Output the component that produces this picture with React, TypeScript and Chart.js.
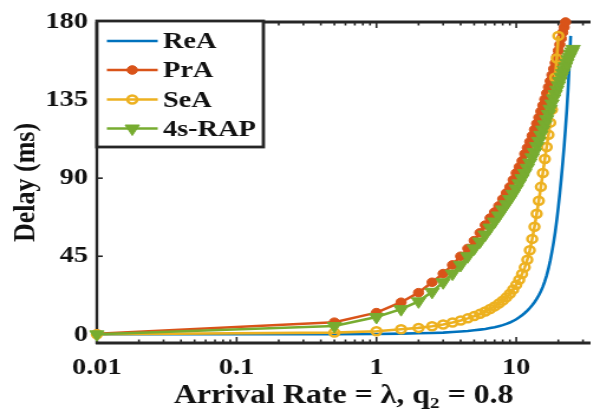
import React, { useEffect, useRef } from 'react';
import { Chart, registerables } from 'chart.js';

Chart.register(...registerables);

// Arrival rates (λ) at which each series is sampled
const lambdas = [
  0.01, 0.5, 1, 1.5, 2, 2.5, 3, 3.5, 4, 4.5, 5, 5.5, 6, 6.5, 7, 7.5, 8, 8.5, 9, 9.5,
  10, 10.5, 11, 11.5, 12, 12.5, 13, 13.5, 14, 14.5, 15, 15.5, 16, 16.5, 17, 17.5, 18, 18.5, 19, 19.5,
  20, 20.5, 21, 21.5, 22, 22.5, 23, 23.5, 24, 24.5, 25, 25.5,
];

// Delay (ms) per series
const reaDelay = [
  0, 0.1, 0.2, 0.4, 0.6, 0.8, 1, 1.3, 1.6, 1.9, 2.3, 2.7, 3.1, 3.6, 4.1, 4.7, 5.3, 6, 6.8, 7.7,
  8.7, 9.8, 11, 12.3, 13.7, 15.2, 16.8, 18.5, 20.4, 22.5, 24.8, 27.5, 30.5, 34, 38, 42.5, 47.5, 53, 59, 66,
  73.5, 81.5, 90, 99, 108.5, 118.5, 129.5, 142, 156, 172,
];
const praDelay = [
  0.3, 7, 12.5, 18.5, 24, 30, 35, 40, 45, 49.5, 54, 58.5, 63, 67, 70.5, 74, 78, 81.5, 85, 89,
  93, 96.5, 100, 104, 107.5, 111, 114.5, 118, 121.5, 125, 128.5, 132, 135.5, 139, 142.5, 146, 149.5, 153, 156.5, 160,
  163.5, 167, 170.5, 174, 177, 180,
];
const seaDelay = [
  0, 1, 1.8, 2.9, 3.7, 4.7, 5.7, 6.8, 8, 9.2, 10.5, 11.8, 13.2, 14.6, 16.1, 17.7, 19.4, 21.3, 23.4, 25.8,
  28.5, 31.5, 34.8, 38.6, 43, 48.5, 55, 62, 69.5, 77, 85, 93, 101, 108, 115, 122, 129.5, 138, 148, 159,
  172,
];
const rapDelay = [
  0, 4.8, 10, 14.5, 19, 24.5, 30, 35, 40, 45, 49.5, 53.5, 57.5, 61.5, 65, 68.5, 72, 75, 78, 81,
  84, 87, 90, 93, 96, 99, 102, 105, 108.5, 111.5, 115, 118, 121, 124, 127, 130, 133, 136, 138.5, 141,
  143.5, 146, 148.5, 150.5, 152.5, 154.5, 156.5, 158.5, 160, 161.5, 163, 164.5,
];

const seriesNames = ['ReA', 'PrA', 'SeA', '4s-RAP'];
const seriesColors = ['#0072BD', '#D95319', '#EDB120', '#77AC30'];

const xMajorTicks = [0.01, 0.1, 1, 10];
const xTickLabels = ['0.01', '0.1', '1', '10'];
const xMinorTicks = [
  0.02, 0.03, 0.04, 0.05, 0.06, 0.07, 0.08, 0.09,
  0.2, 0.3, 0.4, 0.5, 0.6, 0.7, 0.8, 0.9,
  2, 3, 4, 5, 6, 7, 8, 9, 20, 30,
];
const yTicks = [0, 45, 90, 135, 180];
const yTickLabels = ['0', '45', '90', '135', '180'];

const xTitle = 'Arrival Rate = λ, q₂ = 0.8';
const yTitle = 'Delay (ms)';

const FONT = '"Liberation Serif", "Times New Roman", serif';
const AXIS_COLOR = '#262626';
const TEXT_COLOR = '#111111';

const LINE_W = 2.6;
const RED_R = 4.3;
const YEL_R = 4;
const YEL_BW = 2.5;
const TRI_R = 7;

const toPoints = (ys: number[]) => ys.map((y, i) => ({ x: lambdas[i], y }));

function drawMarker(ctx: CanvasRenderingContext2D, idx: number, x: number, y: number) {
  const c = seriesColors[idx];
  if (idx === 1) {
    ctx.beginPath();
    ctx.arc(x, y, RED_R, 0, Math.PI * 2);
    ctx.fillStyle = c;
    ctx.fill();
    ctx.lineWidth = 1;
    ctx.strokeStyle = c;
    ctx.stroke();
  } else if (idx === 2) {
    ctx.beginPath();
    ctx.arc(x, y, YEL_R, 0, Math.PI * 2);
    ctx.lineWidth = YEL_BW;
    ctx.strokeStyle = c;
    ctx.stroke();
  } else if (idx === 3) {
    ctx.beginPath();
    for (let k = 0; k < 3; k++) {
      const ang = Math.PI + (k * 2 * Math.PI) / 3;
      const px = x + Math.sin(ang) * TRI_R;
      const py = y - Math.cos(ang) * TRI_R;
      if (k === 0) ctx.moveTo(px, py);
      else ctx.lineTo(px, py);
    }
    ctx.closePath();
    ctx.fillStyle = c;
    ctx.fill();
    ctx.lineWidth = 1;
    ctx.strokeStyle = c;
    ctx.stroke();
  }
}

const framePlugin = {
  id: 'matlabFrame',
  beforeDatasetsDraw(chart: any) {
    const { ctx, chartArea: a, scales } = chart;
    const xs = scales.x;
    const ys = scales.y;
    ctx.save();
    ctx.strokeStyle = AXIS_COLOR;
    const seg = (x1: number, y1: number, x2: number, y2: number) => {
      ctx.beginPath();
      ctx.moveTo(x1, y1);
      ctx.lineTo(x2, y2);
      ctx.stroke();
    };
    ctx.lineWidth = 1.6;
    xMajorTicks.forEach((v) => {
      const p = xs.getPixelForValue(v);
      seg(p, a.bottom, p, a.bottom - 6);
      seg(p, a.top, p, a.top + 6);
    });
    xMinorTicks.forEach((v) => {
      const p = xs.getPixelForValue(v);
      seg(p, a.bottom, p, a.bottom - 3.5);
      seg(p, a.top, p, a.top + 3.5);
    });
    yTicks.forEach((v) => {
      const p = ys.getPixelForValue(v);
      seg(a.left, p, a.left + 5, p);
    });
    ctx.lineWidth = 2.8;
    seg(a.left - 1, a.bottom, a.right, a.bottom);
    seg(a.left - 1, a.top, a.right, a.top);
    ctx.lineWidth = 2.4;
    seg(a.left, a.top, a.left, a.bottom + 1);
    ctx.restore();
  },
  afterDatasetsDraw(chart: any) {
    const { ctx, chartArea: a } = chart;
    ctx.save();
    const bx = a.left;
    const by = a.top - 1;
    const bw = 141;
    const bh = 126;
    ctx.fillStyle = '#ffffff';
    ctx.fillRect(bx, by, bw, bh);
    ctx.lineWidth = 2.8;
    ctx.strokeStyle = AXIS_COLOR;
    ctx.strokeRect(bx, by, bw, bh);
    const rows = [41, 70, 99.5, 128.5];
    seriesNames.forEach((name, i) => {
      const ry = rows[i];
      ctx.beginPath();
      ctx.moveTo(bx + 8.5, ry);
      ctx.lineTo(bx + 51.5, ry);
      ctx.lineWidth = LINE_W;
      ctx.strokeStyle = seriesColors[i];
      ctx.stroke();
      drawMarker(ctx, i, bx + 30, ry);
      ctx.fillStyle = TEXT_COLOR;
      ctx.font = `bold 24px ${FONT}`;
      ctx.textAlign = 'left';
      ctx.textBaseline = 'middle';
      ctx.fillText(name, bx + 56, ry + 1);
    });
    ctx.restore();
  },
};

export default function App() {
  const canvasRef = useRef<HTMLCanvasElement | null>(null);

  useEffect(() => {
    const canvas = canvasRef.current;
    if (!canvas) return;
    const chart = new Chart(canvas, {
      type: 'line',
      data: {
        datasets: [
          {
            label: seriesNames[0],
            data: toPoints(reaDelay),
            borderColor: seriesColors[0],
            backgroundColor: seriesColors[0],
            borderWidth: LINE_W,
            pointRadius: 0,
            order: 3,
            clip: false as any,
          },
          {
            label: seriesNames[1],
            data: toPoints(praDelay),
            borderColor: seriesColors[1],
            backgroundColor: seriesColors[1],
            pointBackgroundColor: seriesColors[1],
            pointBorderColor: seriesColors[1],
            pointRadius: RED_R,
            pointBorderWidth: 1,
            borderWidth: LINE_W,
            order: 2,
            clip: false as any,
          },
          {
            label: seriesNames[2],
            data: toPoints(seaDelay),
            borderColor: seriesColors[2],
            backgroundColor: 'rgba(0,0,0,0)',
            pointBackgroundColor: 'rgba(0,0,0,0)',
            pointBorderColor: seriesColors[2],
            pointRadius: YEL_R,
            pointBorderWidth: YEL_BW,
            borderWidth: LINE_W,
            order: 1,
            clip: false as any,
          },
          {
            label: seriesNames[3],
            data: toPoints(rapDelay),
            borderColor: seriesColors[3],
            backgroundColor: seriesColors[3],
            pointBackgroundColor: seriesColors[3],
            pointBorderColor: seriesColors[3],
            pointStyle: 'triangle',
            pointRotation: 180,
            pointRadius: TRI_R,
            pointBorderWidth: 1,
            borderWidth: LINE_W,
            order: 0,
            clip: false as any,
          },
        ],
      },
      options: {
        responsive: false,
        animation: false,
        devicePixelRatio: 1,
        layout: { padding: { top: 22, left: 0, right: 0, bottom: 0 } },
        plugins: {
          legend: { display: false },
          tooltip: { enabled: false },
        },
        scales: {
          x: {
            type: 'logarithmic',
            min: 0.01,
            max: 34,
            grid: { display: false, drawTicks: false },
            border: { display: false },
            afterBuildTicks: (s: any) => {
              s.ticks = xMajorTicks.map((v) => ({ value: v }));
            },
            afterFit: (s: any) => {
              s.height = 75;
            },
            ticks: {
              autoSkip: false,
              maxRotation: 0,
              minRotation: 0,
              padding: 10,
              color: TEXT_COLOR,
              font: { family: FONT, size: 24, weight: 'bold' },
              callback: (v: any) => {
                const i = xMajorTicks.indexOf(Number(v));
                return i >= 0 ? xTickLabels[i] : '';
              },
            },
            title: {
              display: true,
              text: xTitle,
              color: TEXT_COLOR,
              font: { family: FONT, size: 27, weight: 'bold' },
              padding: { top: 0, bottom: 6 },
            },
          },
          y: {
            type: 'linear',
            min: -5,
            max: 180,
            grid: { display: false, drawTicks: false },
            border: { display: false },
            afterBuildTicks: (s: any) => {
              s.ticks = yTicks.map((v) => ({ value: v }));
            },
            afterFit: (s: any) => {
              s.width = 82;
            },
            ticks: {
              autoSkip: false,
              padding: 7.5,
              color: TEXT_COLOR,
              font: { family: FONT, size: 24, weight: 'bold' },
              callback: (v: any) => {
                const i = yTicks.indexOf(Number(v));
                return i >= 0 ? yTickLabels[i] : '';
              },
            },
            title: {
              display: true,
              text: yTitle,
              color: TEXT_COLOR,
              font: { family: FONT, size: 26, weight: 'bold' },
              padding: { top: 6.4, bottom: 0 },
            },
          },
        },
      } as any,
      plugins: [framePlugin],
    });
    return () => chart.destroy();
  }, []);

  return (
    <div style={{ position: 'fixed', left: 0, top: 0, width: 600, height: 418, background: '#ffffff' }}>
      <canvas
        ref={canvasRef}
        width={508}
        height={418}
        style={{ width: '600px', height: '418px', display: 'block' }}
      />
    </div>
  );
}
